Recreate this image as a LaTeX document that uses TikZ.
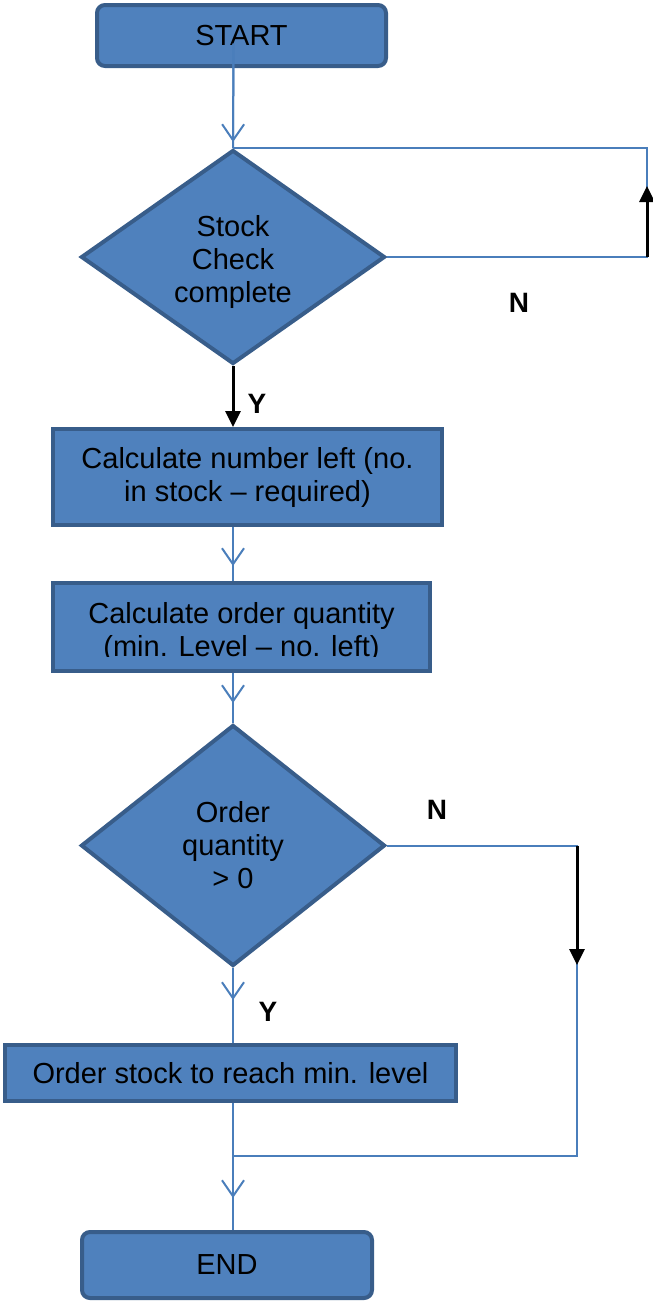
\documentclass[tikz,border=0pt]{standalone}
\usepackage{fontspec}
\setmainfont{Liberation Sans}
\usepackage{tikz}
\usetikzlibrary{arrows.meta, shapes.geometric, calc}
\usepackage{xcolor}
\definecolor{boxfill}{HTML}{4F81BD}
\definecolor{boxedge}{HTML}{385D8A}
\definecolor{linkblue}{HTML}{4A7EBB}

\begin{document}
\begin{tikzpicture}[x=1pt, y=-1pt,
	boxtext/.style={font=\fontsize{29}{33}\selectfont, align=center, inner sep=0pt},
	procbox/.style={rectangle, fill=boxfill, draw=boxedge, line width=4pt, inner sep=0pt, boxtext},
	termbox/.style={procbox, rounded corners=8pt},
	decide/.style={diamond, fill=boxfill, draw=boxedge, line width=4pt, inner sep=0pt, boxtext},
	flow/.style={draw=linkblue, line width=2pt},
	barb/.style={flow, -{Straight Barb[length=16pt, width=22pt]}},
	noflow/.style={black, line width=3pt, -{Triangle[length=16pt, width=15pt]}},
	answer/.style={font=\fontsize{28}{28}\selectfont\bfseries}]
	\useasboundingbox (0,0) rectangle (653,1302);
	\path (241.5,35.5) node[termbox, minimum width=289pt, minimum height=61pt] (start) {START};
	\path (233,257) node[decide, minimum width=304pt, minimum height=214pt] (check) {};
	\path (check.center) node[boxtext, yshift=-5pt] (checktext)
		{\fontsize{29}{34}\selectfont Stock\\Check\\complete};
	\path (247.5,477) node[procbox, minimum width=389pt, minimum height=96pt] (left)
		{Calculate number left (no.\\in stock -- required)};
	\path (241.5,627) node[procbox, minimum width=377pt, minimum height=88pt] (qty) {};
	\begin{scope}
		\clip (51,581) rectangle (432,656);
		\path (qty.center) node[boxtext, yshift=-5pt] (qtytext) {Calculate order quantity\\(min. Level -- no. left)};
	\end{scope}
	\path (233,845.5) node[decide, minimum width=304pt, minimum height=241pt] (positive)
		{\fontsize{29}{35.5}\selectfont Order\\quantity\\> 0};
	\path (230.5,1073) node[procbox, minimum width=451pt, minimum height=56pt] (order)
		{Order stock to reach min. level};
	\path (227,1265) node[termbox, minimum width=290pt, minimum height=66pt] (end) {END};

	\coordinate (loopright) at (647,257);
	\coordinate (looptip) at (647,186);
	\coordinate (skipright) at (577,845.5);
	\coordinate (skiptip) at (577,965);
	\coordinate (join) at (233,1156);

	% main line
	\draw[flow] ([shift={(-8pt,-8pt)}]start.center) -- (check.north);
	\draw[barb, shorten >=6pt] ([shift={(-8pt,-8pt)}]start.center) -- (check.north);
	\draw[noflow] (check.south) -- (check.south |- left.north);
	\draw[flow] (check.south |- left.south) -- (check.south |- qty.north);
	\draw[barb, shorten >=15pt] (check.south |- left.south) -- (check.south |- qty.north);
	\draw[flow] (positive.north |- qty.south) -- (positive.north);
	\draw[barb, shorten >=20pt] (positive.north |- qty.south) -- (positive.north);
	\draw[flow] (positive.south) -- (positive.south |- order.north);
	\draw[barb, shorten >=43pt] (positive.south) -- (positive.south |- order.north);
	\draw[flow] (join |- order.south) -- (join |- end.north);
	\draw[barb, shorten >=32pt] (join |- order.south) -- (join |- end.north);

	% N branches
	\draw[flow] (check.east) -- (loopright) -- (loopright |- check.north) -- (check.north);
	\draw[noflow] (loopright) -- (looptip);
	\draw[flow] (positive.east) -- (skipright) -- (skipright |- join) -- (join);
	\draw[noflow] (skipright) -- (skiptip);

	\path (519,303) node[answer] (checkno) {N};
	\path (257,404) node[answer] (checkyes) {Y};
	\path (437,810) node[answer] (positiveno) {N};
	\path (268,1012) node[answer] (positiveyes) {Y};
\end{tikzpicture}
\end{document}
